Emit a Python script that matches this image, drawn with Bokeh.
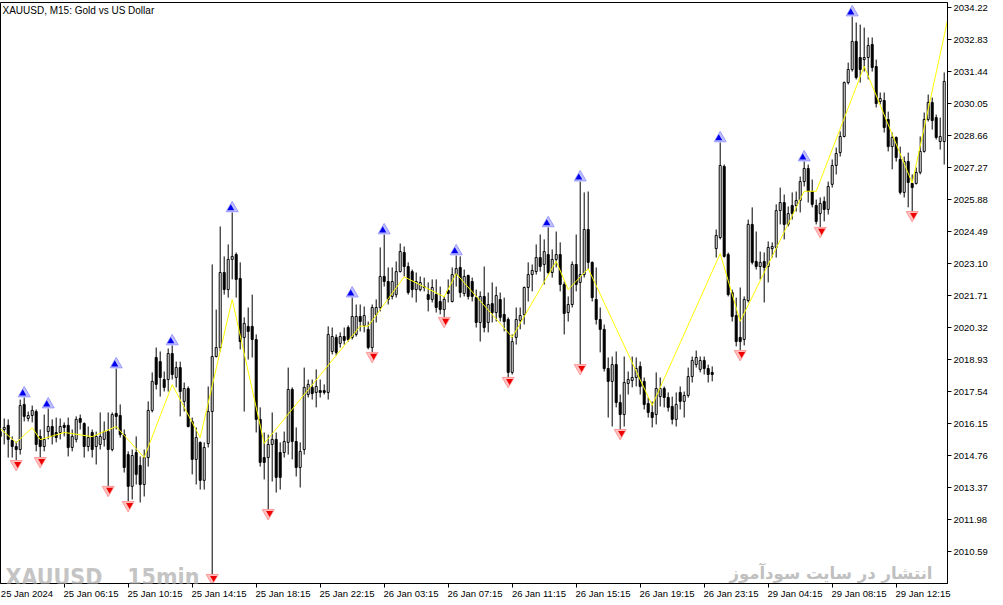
from bokeh.plotting import figure
from bokeh.models import Range1d, FixedTicker, PrintfTickFormatter, Label, LinearAxis
from bokeh.embed import file_html
from bokeh.resources import INLINE

# ---- data (XAUUSD M15, 237 bars) ----
opens = [
2015.80,2015.89,2016.07,2015.41,2015.15,2015.02,2016.98,2016.37,2016.50,2016.67,
2015.59,2015.15,2015.80,2016.02,2015.76,2015.76,2016.07,2016.07,2015.11,2015.46,
2016.37,2016.15,2015.15,2015.76,2015.15,2015.24,2015.46,2015.80,2015.02,2016.59,
2016.50,2015.67,2014.80,2013.42,2014.89,2014.33,2013.50,2014.67,2016.72,2019.02,
2018.84,2018.06,2018.06,2019.19,2018.15,2018.58,2017.11,2017.67,2016.24,2014.59,
2015.33,2013.68,2015.28,2016.67,2019.06,2019.45,2022.71,2021.97,2023.28,2023.49,
2022.45,2019.89,2020.37,2020.37,2019.80,2016.33,2014.67,2014.67,2015.24,2015.46,
2014.89,2014.89,2015.33,2017.63,2015.37,2014.24,2015.02,2017.41,2017.72,2017.50,
2017.58,2017.58,2017.50,2019.28,2019.89,2019.63,2019.93,2020.32,2019.89,2020.02,
2020.80,2020.41,2020.24,2019.45,2020.89,2021.19,2022.54,2022.32,2021.67,2021.75,
2022.75,2023.58,2022.97,2022.75,2021.97,2021.97,2022.10,2021.75,2021.54,2021.75,
2021.45,2021.10,2021.93,2021.45,2022.62,2022.93,2021.80,2022.58,2022.32,2021.62,
2020.54,2021.67,2020.54,2021.36,2020.97,2021.54,2020.89,2020.67,2018.37,2019.89,
2020.63,2020.89,2022.06,2022.62,2022.75,2023.36,2023.06,2023.49,2022.71,2023.28,
2023.49,2022.19,2020.97,2021.32,2023.06,2022.28,2022.62,2024.58,2023.15,2021.54,
2020.67,2020.24,2018.54,2017.98,2018.71,2017.06,2016.54,2017.89,2018.02,2018.15,
2018.63,2017.98,2017.02,2016.63,2016.54,2017.32,2017.67,2017.28,2016.89,2016.33,
2017.50,2017.11,2017.37,2018.19,2018.71,2018.50,2018.89,2018.54,2018.37,2023.75,
2024.23,2027.32,2023.49,2021.84,2020.84,2019.89,2019.80,2021.49,2024.80,2023.19,
2022.97,2023.19,2022.97,2023.75,2023.80,2025.40,2025.75,2024.80,2025.62,2025.62,
2025.84,2026.66,2027.23,2026.23,2025.62,2025.27,2025.80,2025.45,2026.54,2027.36,
2027.92,2028.62,2030.96,2031.53,2032.75,2032.05,2031.96,2032.05,2032.62,2031.66,
2030.14,2030.18,2029.36,2028.18,2028.58,2027.62,2026.19,2027.53,2026.58,2026.58,
2027.06,2027.97,2029.36,2030.10,2029.44,2028.40,2028.40]

highs = [
2016.02,2016.37,2016.33,2015.59,2015.37,2017.19,2017.28,2016.67,2016.93,2016.76,
2015.89,2016.54,2016.80,2016.33,2016.41,2016.37,2016.20,2016.41,2015.89,2016.46,
2016.54,2016.20,2016.02,2015.89,2015.80,2016.63,2016.24,2016.63,2016.63,2018.54,
2016.98,2015.89,2014.94,2015.02,2015.59,2014.72,2015.02,2017.11,2018.37,2019.45,
2019.28,2018.41,2019.41,2019.54,2018.84,2018.84,2017.93,2017.76,2016.41,2015.98,
2015.37,2015.33,2017.76,2023.06,2021.10,2024.71,2023.41,2023.93,2025.32,2023.58,
2023.15,2020.76,2021.19,2021.75,2020.02,2016.85,2015.76,2015.67,2016.63,2015.76,
2015.33,2015.80,2018.58,2017.72,2015.98,2015.33,2018.58,2018.06,2018.06,2018.50,
2018.06,2017.85,2020.37,2020.32,2020.02,2020.11,2020.32,2020.41,2021.62,2021.32,
2021.32,2021.23,2020.58,2021.32,2021.54,2023.80,2024.36,2022.93,2022.93,2023.19,
2023.97,2023.84,2023.15,2022.84,2022.71,2022.54,2022.49,2022.28,2022.41,2022.41,
2022.10,2021.67,2022.41,2022.93,2023.45,2023.41,2022.84,2022.62,2022.49,2021.97,
2021.89,2022.97,2021.84,2022.28,2022.10,2021.84,2021.62,2020.76,2020.02,2021.19,
2021.19,2022.10,2023.15,2023.06,2023.93,2024.36,2024.15,2024.67,2023.71,2024.49,
2024.02,2022.32,2021.67,2023.19,2024.36,2026.66,2026.19,2026.23,2023.19,2022.93,
2021.19,2020.45,2019.02,2019.06,2019.28,2017.41,2019.06,2018.41,2019.06,2019.02,
2018.84,2018.15,2017.28,2017.11,2018.37,2018.15,2017.76,2017.50,2017.32,2017.50,
2017.76,2017.54,2018.58,2019.06,2019.32,2019.06,2019.06,2018.71,2018.63,2024.58,
2028.36,2027.40,2023.58,2021.97,2021.62,2022.06,2021.67,2025.01,2025.54,2024.49,
2023.62,2023.58,2024.06,2024.02,2025.67,2026.40,2026.10,2025.58,2026.19,2026.23,
2026.88,2027.53,2027.40,2026.75,2025.88,2025.97,2026.01,2026.66,2027.62,2028.14,
2028.84,2031.01,2031.83,2033.83,2033.57,2033.48,2033.35,2032.92,2032.92,2031.96,
2030.53,2030.53,2029.70,2028.79,2028.62,2028.18,2027.75,2027.92,2026.97,2027.27,
2028.62,2029.66,2030.44,2030.31,2029.57,2029.44,2031.40]

lows = [
2015.54,2015.24,2014.67,2014.67,2014.54,2014.80,2016.24,2016.24,2016.20,2014.94,
2014.67,2014.94,2015.46,2015.24,2015.33,2015.46,2015.59,2014.72,2014.94,2015.33,
2015.89,2014.67,2014.94,2014.67,2014.37,2015.02,2015.15,2013.42,2014.94,2015.89,
2015.54,2014.02,2012.76,2012.85,2013.50,2012.72,2012.98,2014.28,2016.63,2017.63,
2017.32,2017.54,2017.54,2018.06,2017.72,2016.46,2016.67,2015.98,2013.94,2013.50,
2013.28,2013.28,2015.11,2009.59,2019.02,2019.28,2021.75,2021.62,2022.41,2021.62,
2019.37,2016.67,2018.93,2019.02,2015.76,2014.28,2013.72,2012.41,2013.63,2013.15,
2013.28,2014.67,2014.80,2014.59,2013.85,2013.37,2014.80,2017.28,2017.19,2016.85,
2017.28,2017.41,2017.19,2019.15,2019.11,2019.45,2019.58,2019.71,2019.80,2019.93,
2020.15,2020.11,2019.37,2019.24,2020.54,2021.02,2022.10,2021.32,2021.54,2021.62,
2022.71,2022.54,2021.75,2021.62,2021.41,2021.89,2021.89,2021.02,2021.41,2020.97,
2020.89,2020.76,2021.41,2021.41,2022.10,2021.62,2021.67,2021.54,2021.45,2020.32,
2019.71,2020.11,2020.11,2020.54,2020.58,2020.58,2020.15,2018.15,2018.28,2019.58,
2020.24,2020.45,2021.45,2021.89,2022.62,2022.75,2022.19,2022.62,2022.49,2022.93,
2021.89,2020.02,2020.58,2021.19,2021.89,2018.71,2022.49,2022.84,2021.45,2020.45,
2019.24,2018.41,2016.41,2016.02,2016.85,2015.89,2016.02,2017.41,2017.72,2017.76,
2017.41,2016.76,2016.41,2015.98,2016.11,2016.89,2016.85,2016.67,2016.11,2016.02,
2016.76,2016.41,2017.28,2017.93,2018.58,2018.37,2018.28,2017.93,2017.98,2023.36,
2024.15,2023.36,2021.67,2020.58,2019.50,2019.32,2019.54,2021.41,2023.06,2022.84,
2022.41,2021.41,2022.28,2023.36,2023.36,2024.80,2024.15,2024.71,2025.01,2025.36,
2025.32,2026.45,2025.75,2025.54,2024.80,2024.67,2024.93,2025.23,2026.40,2026.97,
2027.75,2028.58,2030.88,2031.44,2031.10,2030.96,2031.44,2031.10,2031.44,2029.88,
2030.01,2028.79,2027.97,2027.19,2027.53,2026.10,2025.97,2025.54,2025.36,2026.53,
2026.97,2027.92,2029.27,2028.92,2028.49,2028.05,2027.40]

closes = [
2015.59,2015.98,2015.46,2015.15,2015.02,2016.93,2016.46,2016.50,2016.72,2015.24,
2015.15,2015.46,2016.02,2015.59,2015.54,2016.02,2015.98,2015.11,2015.59,2016.33,
2016.20,2015.15,2015.54,2015.02,2015.59,2015.59,2015.80,2015.02,2016.54,2016.46,
2015.67,2014.24,2013.42,2014.76,2013.94,2013.50,2014.67,2016.72,2017.98,2017.85,
2018.15,2017.72,2019.19,2018.28,2018.58,2017.54,2017.67,2016.02,2014.59,2015.54,
2013.68,2015.11,2016.67,2019.06,2019.45,2022.71,2021.97,2023.28,2023.41,2022.41,
2019.71,2020.50,2020.15,2019.80,2016.33,2014.46,2014.46,2015.24,2015.46,2013.81,
2013.81,2015.37,2017.63,2015.37,2014.24,2014.94,2017.72,2017.85,2017.45,2017.76,
2017.50,2017.50,2020.02,2019.93,2019.24,2019.93,2019.76,2019.80,2020.80,2020.80,
2020.58,2020.84,2019.45,2021.19,2021.19,2022.54,2022.32,2021.54,2022.32,2022.75,
2023.62,2022.97,2021.84,2021.97,2022.32,2022.28,2022.06,2021.54,2022.06,2021.19,
2021.10,2021.54,2021.80,2022.62,2022.88,2021.84,2022.54,2021.67,2021.67,2020.54,
2021.67,2020.32,2021.32,2020.97,2021.71,2020.76,2020.58,2018.37,2019.71,2020.67,
2020.84,2022.06,2022.62,2022.80,2023.36,2022.97,2023.62,2022.71,2023.28,2023.49,
2022.19,2020.93,2021.32,2023.06,2022.19,2022.62,2024.58,2023.15,2021.62,2020.67,
2020.24,2018.54,2017.98,2018.71,2017.06,2016.54,2017.93,2018.06,2018.15,2018.54,
2017.76,2016.98,2016.63,2016.41,2017.67,2017.67,2017.28,2016.85,2016.33,2016.98,
2017.11,2017.37,2018.19,2018.89,2019.02,2018.89,2018.54,2018.28,2018.28,2024.32,
2027.36,2023.41,2021.75,2020.80,2019.71,2019.71,2021.54,2024.80,2023.15,2022.97,
2023.15,2022.93,2023.80,2023.84,2025.40,2025.75,2024.80,2025.27,2025.27,2025.84,
2026.66,2027.23,2026.23,2025.67,2024.93,2025.71,2025.45,2026.45,2027.36,2027.88,
2028.62,2030.96,2031.53,2032.75,2031.18,2031.53,2032.05,2032.57,2031.62,2030.05,
2030.27,2029.01,2028.18,2028.58,2027.71,2026.19,2027.53,2026.62,2026.40,2027.06,
2027.97,2029.36,2030.10,2029.31,2028.58,2028.62,2031.01]

# fractal arrows (bar indices)
up_arrows = [6, 12, 29, 43, 58, 88, 96, 114, 137, 145, 180, 201, 213]
down_arrows = [4, 10, 27, 32, 53, 67, 93, 111, 127, 145, 155, 185, 205, 228]

# zigzag vertices
zz_idx = [0, 4, 8, 10, 16, 23, 29, 36, 43, 50, 58, 66, 90, 92, 101, 111, 114, 128,
          139, 142, 147, 163, 180, 185, 201, 204, 216, 228, 237]
zz_val = [2015.93, 2015.32, 2015.97, 2015.45, 2015.76, 2015.58, 2016.02, 2014.67,
          2017.84, 2015.54, 2021.54, 2015.28, 2020.38, 2020.38, 2022.52, 2021.65,
          2022.66, 2019.90, 2023.20, 2021.97, 2022.88, 2016.94, 2023.53, 2020.59,
          2026.24, 2026.24, 2031.67, 2026.60, 2033.80]

# axis ticks
x_tick_pos = [0, 16, 32, 48, 64, 80, 96, 112, 128, 144, 160, 176, 192, 208, 224]
x_tick_labels = ["25 Jan 2024", "25 Jan 06:15", "25 Jan 10:15", "25 Jan 14:15",
                 "25 Jan 18:15", "25 Jan 22:15", "26 Jan 03:15", "26 Jan 07:15",
                 "26 Jan 11:15", "26 Jan 15:15", "26 Jan 19:15", "26 Jan 23:15",
                 "29 Jan 04:15", "29 Jan 08:15", "29 Jan 12:15"]
y_ticks = [2010.59, 2011.98, 2013.37, 2014.76, 2016.15, 2017.54, 2018.93, 2020.32,
           2021.71, 2023.10, 2024.49, 2025.88, 2027.27, 2028.66, 2030.05, 2031.44,
           2032.83, 2034.22]

n = len(opens)
idx = list(range(n))
bull = [i for i in idx if closes[i] >= opens[i]]
bear = [i for i in idx if closes[i] < opens[i]]

FONT = "Liberation Sans"
LABEL_SHIFT = 6.7   # bars: text starts at the tick, as in MetaTrader

p = figure(frame_width=947, frame_height=581,
           x_range=Range1d(0.075, 236.825), y_range=Range1d(2009.20, 2034.44),
           output_backend="svg", toolbar_location=None, y_axis_location="right",
           min_border_left=0, min_border_top=0, min_border_right=0, min_border_bottom=0,
           background_fill_color="white", border_fill_color="white",
           outline_line_color="black", outline_line_width=1)
p.margin = (2, 0, 0, 0)
p.grid.visible = False

# wicks
p.segment(x0=idx, y0=lows, x1=idx, y1=highs, line_color="black", line_width=1)
# bodies
p.vbar(x=bull, width=0.5, bottom=[opens[i] for i in bull], top=[closes[i] for i in bull],
       fill_color="white", line_color="black", line_width=1)
p.vbar(x=bear, width=0.5, bottom=[closes[i] for i in bear], top=[opens[i] for i in bear],
       fill_color="black", line_color="black", line_width=1)

# zigzag
p.line(zz_idx, zz_val, line_color="#ffff00", line_width=1)

# arrows
ux = list(up_arrows)
uy = [highs[i] + 0.18 for i in up_arrows]
p.scatter(ux, uy, marker="triangle", size=12, fill_color="#c0c0ff", line_color="#9a9aff", line_width=1)
p.scatter([x - 0.35 for x in ux], uy, marker="triangle", size=7, fill_color="#0000ee", line_color=None)
dx = list(down_arrows)
dy = [lows[i] - 0.15 for i in down_arrows]
p.scatter(dx, dy, marker="inverted_triangle", size=12, fill_color="#ffc0c0", line_color="#ff9a9a", line_width=1)
p.scatter([x + 0.35 for x in dx], dy, marker="inverted_triangle", size=7, fill_color="#ee0000", line_color=None)

# bottom axis: tick marks only
xa = p.xaxis[0]
xa.ticker = FixedTicker(ticks=x_tick_pos)
xa.major_label_overrides = {t: "" for t in x_tick_pos}
xa.major_label_text_font_size = "1px"
xa.major_tick_out = 4
xa.major_tick_in = 0
xa.minor_tick_out = 0
xa.minor_tick_in = 0
xa.major_label_standoff = 0
xa.axis_line_color = "black"

# second bottom axis: the labels, starting at the tick
lab_pos = [t + LABEL_SHIFT for t in x_tick_pos]
xa2 = LinearAxis(ticker=FixedTicker(ticks=lab_pos),
                 major_label_overrides={lp: s for lp, s in zip(lab_pos, x_tick_labels)},
                 major_tick_out=0, major_tick_in=0, minor_tick_out=0, minor_tick_in=0,
                 axis_line_color=None, major_label_standoff=0,
                 major_label_text_font=FONT, major_label_text_font_size="9.5px",
                 major_label_text_color="black")
p.add_layout(xa2, "below")

ya = p.yaxis[0]
ya.ticker = FixedTicker(ticks=y_ticks)
ya.formatter = PrintfTickFormatter(format="%.2f")
ya.major_label_text_font = FONT
ya.major_label_text_font_size = "9.5px"
ya.major_label_text_color = "black"
ya.major_tick_out = 4
ya.major_tick_in = 0
ya.minor_tick_out = 0
ya.minor_tick_in = 0
ya.major_label_standoff = 2
ya.axis_line_color = "black"

# texts
p.add_layout(Label(x=2, y=579, x_units="screen", y_units="screen",
                   text="XAUUSD, M15:  Gold vs US Dollar", text_font=FONT,
                   text_font_size="10px", text_color="black", text_baseline="top"))
p.add_layout(Label(x=5, y=7, x_units="screen", y_units="screen",
                   text="XAUUSD _ 15min", text_font="DejaVu Sans Condensed",
                   text_font_style="bold", text_font_size="23px", text_color="#c4c4c4",
                   text_baseline="alphabetic"))
p.add_layout(Label(x=932, y=10, x_units="screen", y_units="screen",
                   text="انتشار در سایت سودآموز", text_font="DejaVu Sans",
                   text_font_style="bold", text_font_size="16.5px", text_color="#c0c0c0",
                   text_align="right", text_baseline="alphabetic"))

open("out.html", "w").write(file_html(p, INLINE))
